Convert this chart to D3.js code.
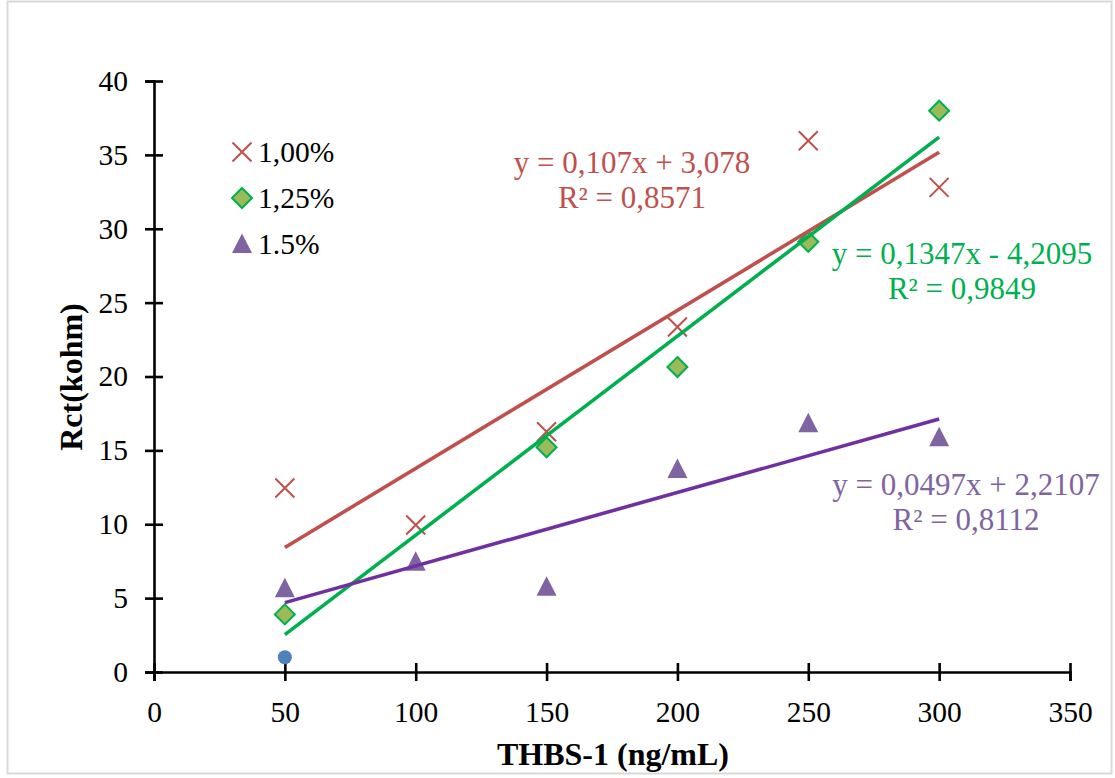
<!DOCTYPE html>
<html>
<head>
<meta charset="utf-8">
<script src="https://cdn.jsdelivr.net/npm/d3@7"></script>
<style>
  body { margin: 0; background: #fff; }
  svg { display: block; font-family: "Liberation Serif", "Times New Roman", serif; }
</style>
</head>
<body>
<script>
// THBS-1 concentration (ng/mL)
const conc = [50, 100, 150, 200, 250, 300];

// Rct (kohm) per series, null where there is no point
const rct100 = [12.45, 9.95, 16.26, 23.35, 35.96, 32.8];
const rct125 = [3.9, null, 15.21, 20.64, 29.12, 37.99];
const rct150 = [5.66, 7.47, 5.77, 13.74, 16.83, 15.88];
const rctExtra = [1.0, null, null, null, null, null];

const seriesNames = ["1,00%", "1,25%", "1.5%"];

// linear trendlines as printed on the chart
const slopes = [0.107, 0.1347, 0.0497];
const intercepts = [3.078, -4.2095, 2.2107];
const eqLabels = ["y = 0,107x + 3,078", "y = 0,1347x - 4,2095", "y = 0,0497x + 2,2107"];
const r2Labels = ["R² = 0,8571", "R² = 0,9849", "R² = 0,8112"];

const xTicks = [0, 50, 100, 150, 200, 250, 300, 350];
const yTicks = [0, 5, 10, 15, 20, 25, 30, 35, 40];

const w = 1115, h = 778;

const svg = d3.select("body").append("svg")
    .attr("width", w)
    .attr("height", h);

// chart area border
svg.append("rect")
    .attr("x", 7.5).attr("y", 1.5)
    .attr("width", 1104).attr("height", 772)
    .attr("fill", "#fff")
    .attr("stroke", "#d9d9d9")
    .attr("stroke-width", 2);

const xScale = d3.scaleLinear().domain([0, 350]).range([154, 1070]);
const yScale = d3.scaleLinear().domain([0, 40]).range([672, 81]);

// axes, ticks cross the axis line
const xAxis = svg.append("g")
    .attr("transform", "translate(0," + yScale(0) + ")")
    .call(d3.axisBottom(xScale).tickValues(xTicks).tickSizeOuter(0).tickSize(9).tickPadding(20));
xAxis.selectAll(".tick line").attr("y1", -9);

const yAxis = svg.append("g")
    .attr("transform", "translate(" + xScale(0) + ",0)")
    .call(d3.axisLeft(yScale).tickValues(yTicks).tickSizeOuter(0).tickSize(9).tickPadding(17));
yAxis.selectAll(".tick line").attr("x1", 9);

svg.selectAll(".domain, .tick line")
    .attr("stroke", "#000")
    .attr("stroke-width", 2.6);
svg.selectAll(".tick text")
    .attr("fill", "#000")
    .style("font-family", "'Liberation Serif', serif")
    .style("font-size", "29.5px");
xAxis.selectAll(".tick text").attr("dy", "0.71em");

// axis titles
svg.append("text")
    .attr("x", 613).attr("y", 765)
    .attr("text-anchor", "middle")
    .style("font-size", "32px")
    .style("font-weight", "bold")
    .text("THBS-1 (ng/mL)");

svg.append("text")
    .attr("transform", "translate(82,377) rotate(-90)")
    .attr("text-anchor", "middle")
    .style("font-size", "32px")
    .style("font-weight", "bold")
    .text("Rct(kohm)");

// marker shapes
const crossPath = "M-9.5,-9.5L9.5,9.5M9.5,-9.5L-9.5,9.5";
const diamondPath = "M0,-10L10,0L0,10L-10,0Z";
const trianglePath = "M0,-10.5L10,9L-10,9Z";

const pts = (vals) => conc.map((c, i) => [c, vals[i]]).filter(d => d[1] != null);

const plot = svg.append("g");

plot.selectAll(".s100")
    .data(pts(rct100))
    .enter().append("path")
    .attr("class", "s100")
    .attr("d", crossPath)
    .attr("transform", d => "translate(" + xScale(d[0]) + "," + yScale(d[1]) + ")")
    .attr("fill", "none")
    .attr("stroke", "#c0504d")
    .attr("stroke-width", 2);

plot.selectAll(".s125")
    .data(pts(rct125))
    .enter().append("path")
    .attr("class", "s125")
    .attr("d", diamondPath)
    .attr("transform", d => "translate(" + xScale(d[0]) + "," + yScale(d[1]) + ")")
    .attr("fill", "#9bbb59")
    .attr("stroke", "#00b050")
    .attr("stroke-width", 2);

plot.selectAll(".s150")
    .data(pts(rct150))
    .enter().append("path")
    .attr("class", "s150")
    .attr("d", trianglePath)
    .attr("transform", d => "translate(" + xScale(d[0]) + "," + yScale(d[1]) + ")")
    .attr("fill", "#8064a2");

plot.selectAll(".sx")
    .data(pts(rctExtra))
    .enter().append("circle")
    .attr("class", "sx")
    .attr("cx", d => xScale(d[0]))
    .attr("cy", d => yScale(d[1]))
    .attr("r", 7)
    .attr("fill", "#4f81bd");

// trendlines from first to last concentration
const lineColors = ["#c0504d", "#00b050", "#7030a0"];
const xMin = d3.min(conc), xMax = d3.max(conc);
const line = d3.line().x(d => xScale(d[0])).y(d => yScale(d[1]));

slopes.forEach((m, i) => {
  const b = intercepts[i];
  plot.append("path")
      .attr("d", line([[xMin, m * xMin + b], [xMax, m * xMax + b]]))
      .attr("stroke", lineColors[i])
      .attr("stroke-width", 3.6)
      .attr("fill", "none");
});

// trendline equations
const labelColors = ["#c0504d", "#00b050", "#8064a2"];
const labelPos = [[632, 173], [962, 264], [966, 495]];

labelPos.forEach((p, i) => {
  const t = svg.append("text")
      .attr("text-anchor", "middle")
      .attr("fill", labelColors[i])
      .style("font-size", "31px");
  t.append("tspan").attr("x", p[0]).attr("y", p[1]).text(eqLabels[i]);
  t.append("tspan").attr("x", p[0]).attr("y", p[1] + 35).text(r2Labels[i]);
});

// legend
const legend = svg.append("g");
const legendShapes = [crossPath, diamondPath, trianglePath];

seriesNames.forEach((name, i) => {
  const y = 152 + i * 46;
  const g = legend.append("g").attr("transform", "translate(242," + y + ")");
  const s = g.append("path").attr("d", legendShapes[i]);
  if (i === 0) s.attr("fill", "none").attr("stroke", "#c0504d").attr("stroke-width", 2);
  if (i === 1) s.attr("fill", "#9bbb59").attr("stroke", "#00b050").attr("stroke-width", 2);
  if (i === 2) s.attr("fill", "#8064a2");
  g.append("text")
      .attr("x", 16)
      .attr("y", 10)
      .style("font-size", "29.5px")
      .text(name);
});
</script>
</body>
</html>
